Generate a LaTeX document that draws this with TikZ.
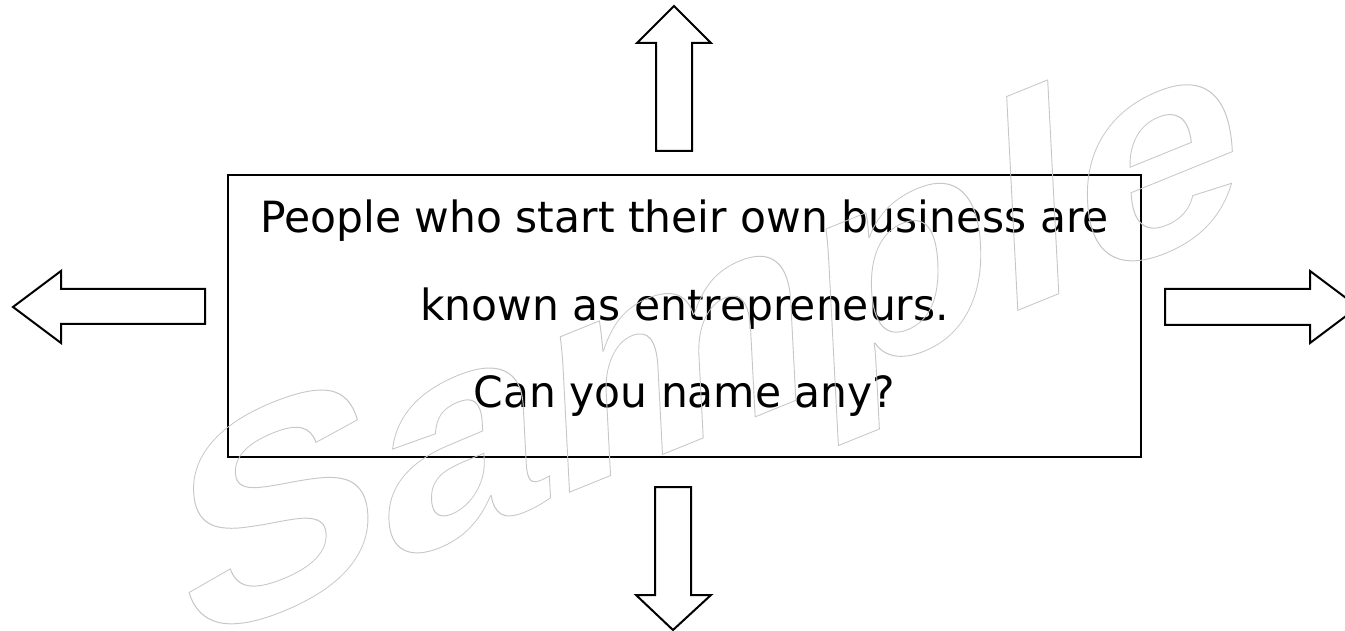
\documentclass[tikz,border=0pt]{standalone}
\usepackage{fontspec}
\setmainfont{DejaVu Sans}
\newfontfamily\wmfont{Liberation Sans}
\definecolor{wmgray}{RGB}{200,200,200}
\newcommand\tl[1]{\scalebox{0.987}[1]{#1}}
\begin{document}
\begin{tikzpicture}[x=1pt,y=-1pt,
  blk/.style={draw=black, line width=2pt, line join=miter, fill=white},
  txt/.style={inner sep=0pt, anchor=base, font=\fontsize{43}{50}\selectfont}]
\useasboundingbox (0,0) rectangle (1345,631);
\clip (0,0) rectangle (1345,631);
% central box
\node[draw=black, line width=2pt, minimum width=913pt, minimum height=282pt, inner sep=0pt] (box) at (684.5,316) {};
\node[txt] (l1) at (684.5,233) {\tl{People who start their own business are}};
\node[txt] (l2) at (684.5,320) {\tl{known as entrepreneurs.}};
\node[txt] (l3) at (684.5,407) {\tl{Can you name any?}};
% block arrows
\draw[blk] (674,6) -- (711,43) -- (692,43) -- (692,151) -- (656,151) -- (656,43) -- (637,43) -- cycle;
\draw[blk] (673,630) -- (711,595) -- (691,595) -- (691,487) -- (655,487) -- (655,595) -- (636,595) -- cycle;
\draw[blk] (13,307) -- (61,271) -- (61,289) -- (205,289) -- (205,324) -- (61,324) -- (61,343) -- cycle;
\draw[blk] (1358,307) -- (1310,271) -- (1310,289) -- (1165,289) -- (1165,325) -- (1310,325) -- (1310,343) -- cycle;
% watermark
\begin{scope}[shift={(183,649)}, cm={1.013,0.411,-0.052,1,(0,0)}]
\node[anchor=base west, inner sep=0pt, transform shape, text=wmgray,
  font=\wmfont\bfseries\fontsize{295}{295}\selectfont] (wm) at (0,0)
  {\special{pdf:literal direct 1 Tr 0.9 w 0.78 0.78 0.78 RG}Sample\special{pdf:literal direct 0 Tr}};
\end{scope}
\end{tikzpicture}
\end{document}
